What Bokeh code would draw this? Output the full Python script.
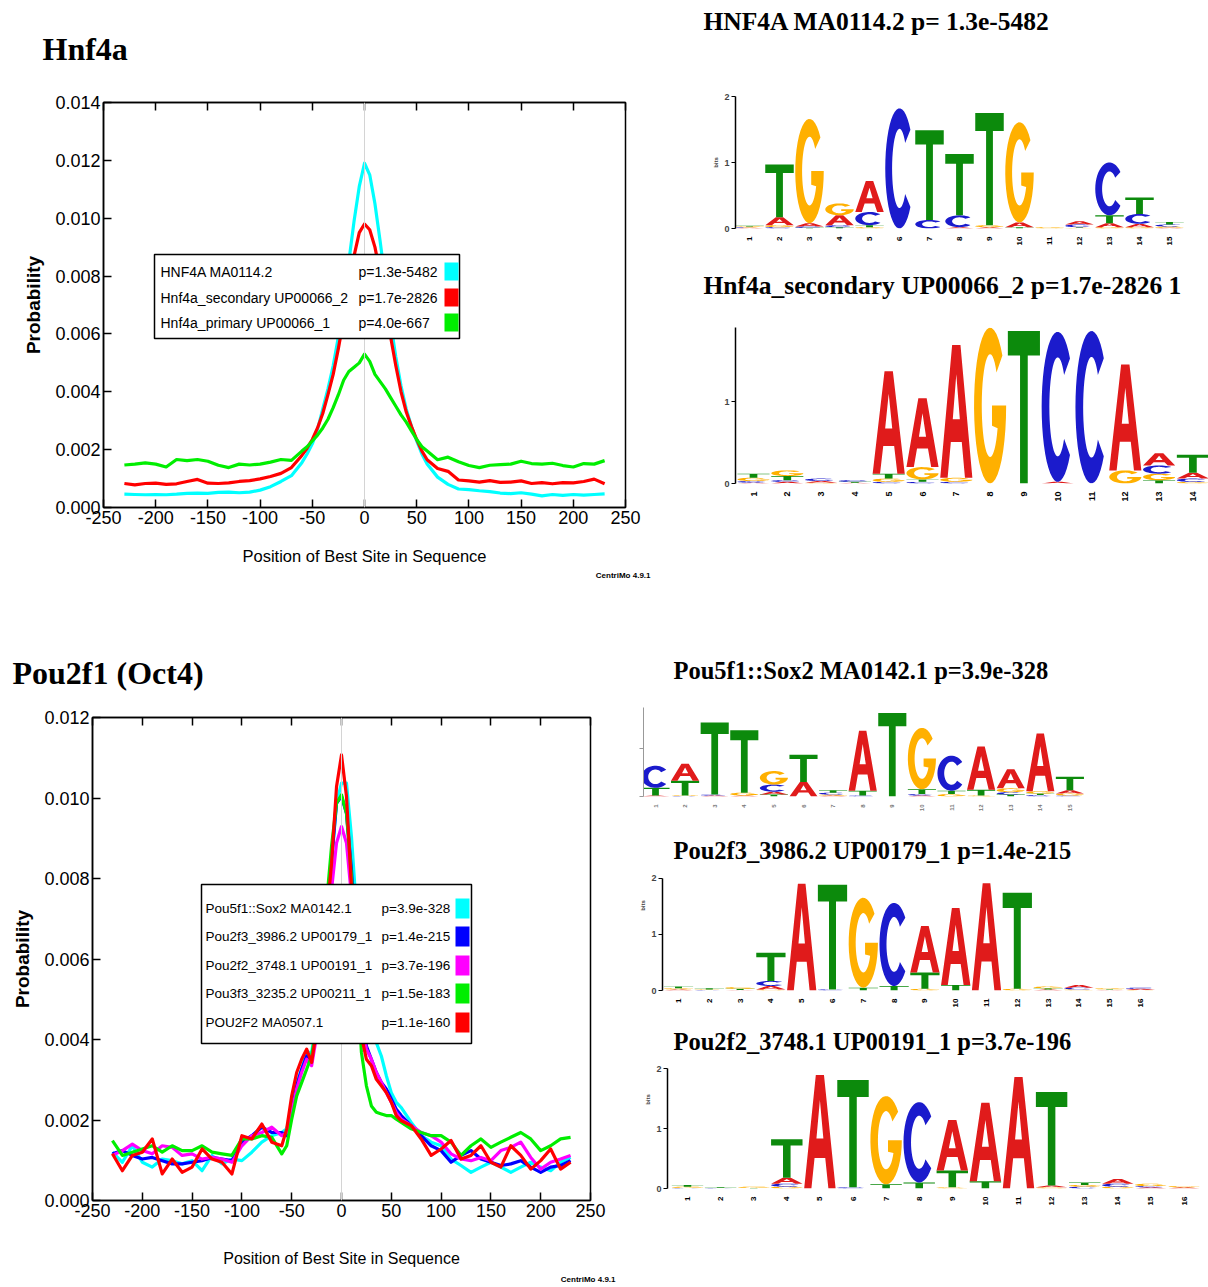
import math
from bokeh.plotting import figure
from bokeh.layouts import row, column
from bokeh.models import Range1d, FixedTicker, PrintfTickFormatter, Label, BoxAnnotation, Span, LinearAxis, Title
from bokeh.embed import file_html
from bokeh.resources import INLINE

SANS = "'Liberation Sans', Arial, sans-serif"
SERIF = "'Liberation Serif', 'Times New Roman', serif"

# ---------------------------------------------------------------- data: Hnf4a
HNF_X = [-230, -220, -210, -200, -190, -180, -170, -160, -150, -140, -130, -120, -110, -100, -90, -80, -70, -60,
         -55, -50, -45, -40, -35, -30, -25, -20, -15, -10, -5, 0, 5, 10, 15, 20, 25, 30, 35, 40, 45, 50, 55,
         60, 70, 80, 90, 100, 110, 120, 130, 140, 150, 160, 170, 180, 190, 200, 210, 220, 230]
HNF_HNF4A = [0.00046, 0.00045, 0.00044, 0.00045, 0.00044, 0.00046, 0.00049, 0.00050, 0.00049, 0.00052, 0.00053, 0.00051,
             0.00053, 0.00060, 0.00072, 0.00090, 0.00110, 0.00155,
             0.00185, 0.00220, 0.00270, 0.00340, 0.00410, 0.00490, 0.00590, 0.00710, 0.00850, 0.00990, 0.01110, 0.01190,
             0.01150, 0.01050, 0.00920, 0.00780, 0.00640, 0.00520, 0.00420, 0.00340, 0.00280, 0.00230, 0.00185,
             0.00150, 0.00105, 0.00080, 0.00064, 0.00062, 0.00058, 0.00055, 0.00050, 0.00048, 0.00051, 0.00046, 0.00040,
             0.00045, 0.00042, 0.00045, 0.00043, 0.00045, 0.00047]
HNF_SECONDARY = [0.00083, 0.00078, 0.00083, 0.00084, 0.00080, 0.00082, 0.00090, 0.00097, 0.00084, 0.00083, 0.00085, 0.00090,
                 0.00093, 0.00099, 0.00107, 0.00118, 0.00138, 0.00180,
                 0.00205, 0.00235, 0.00275, 0.00325, 0.00390, 0.00460, 0.00550, 0.00650, 0.00760, 0.00870, 0.00950, 0.00980,
                 0.00960, 0.00900, 0.00810, 0.00700, 0.00590, 0.00490, 0.00400, 0.00330, 0.00280, 0.00235, 0.00195,
                 0.00165, 0.00135, 0.00125, 0.00095, 0.00092, 0.00088, 0.00093, 0.00087, 0.00088, 0.00092, 0.00083, 0.00086,
                 0.00082, 0.00086, 0.00085, 0.00090, 0.00098, 0.00082]
HNF_PRIMARY = [0.00147, 0.00150, 0.00154, 0.00150, 0.00140, 0.00166, 0.00162, 0.00166, 0.00160, 0.00146, 0.00138, 0.00150,
               0.00147, 0.00150, 0.00157, 0.00166, 0.00163, 0.00195,
               0.00210, 0.00230, 0.00250, 0.00275, 0.00305, 0.00345, 0.00390, 0.00440, 0.00470, 0.00485, 0.00500, 0.00530,
               0.00505, 0.00460, 0.00435, 0.00410, 0.00380, 0.00350, 0.00320, 0.00295, 0.00265, 0.00235, 0.00210,
               0.00195, 0.00165, 0.00174, 0.00158, 0.00145, 0.00138, 0.00146, 0.00148, 0.00150, 0.00160, 0.00152, 0.00150,
               0.00153, 0.00145, 0.00140, 0.00152, 0.00150, 0.00162]
HNF_NAMES = ["HNF4A MA0114.2", "Hnf4a_secondary UP00066_2", "Hnf4a_primary UP00066_1"]
HNF_PVALUES = ["p=1.3e-5482", "p=1.7e-2826", "p=4.0e-667"]
HNF_COLORS = ["#00FFFF", "#FF0000", "#00EE00"]

# ---------------------------------------------------------------- data: Pou2f1
POU_X = HNF_X
POU_POU5F1_SOX2 = [0.00120, 0.00095, 0.00136, 0.00095, 0.00083, 0.00103, 0.00099, 0.00091, 0.00099, 0.00074, 0.00112, 0.00091,
                   0.00103, 0.00099, 0.00120, 0.00145, 0.00161, 0.00169,
                   0.00178, 0.00227, 0.00293, 0.00326, 0.00368, 0.00368, 0.00442, 0.00549, 0.00706, 0.00838, 0.00987, 0.01037,
                   0.01037, 0.00904, 0.00723, 0.00533, 0.00442, 0.00409, 0.00392, 0.00359, 0.00310, 0.00268, 0.00244,
                   0.00231, 0.00194, 0.00161, 0.00145, 0.00136, 0.00103, 0.00087, 0.00070, 0.00083, 0.00095, 0.00083, 0.00070,
                   0.00083, 0.00095, 0.00083, 0.00074, 0.00095, 0.00107]
POU_POU2F3 = [0.00116, 0.00124, 0.00112, 0.00103, 0.00107, 0.00099, 0.00091, 0.00091, 0.00095, 0.00099, 0.00107, 0.00103,
              0.00099, 0.00145, 0.00161, 0.00182, 0.00169, 0.00169,
              0.00161, 0.00219, 0.00285, 0.00326, 0.00359, 0.00351, 0.00425, 0.00533, 0.00698, 0.00847, 0.00987, 0.01004,
              0.00962, 0.00822, 0.00615, 0.00467, 0.00384, 0.00351, 0.00318, 0.00293, 0.00277, 0.00252, 0.00227,
              0.00211, 0.00186, 0.00161, 0.00136, 0.00124, 0.00095, 0.00112, 0.00124, 0.00103, 0.00095, 0.00087, 0.00091,
              0.00099, 0.00083, 0.00070, 0.00083, 0.00087, 0.00099]
POU_POU2F2 = [0.00112, 0.00124, 0.00140, 0.00124, 0.00116, 0.00136, 0.00132, 0.00112, 0.00116, 0.00103, 0.00107, 0.00103,
              0.00095, 0.00136, 0.00161, 0.00169, 0.00182, 0.00161,
              0.00169, 0.00219, 0.00277, 0.00318, 0.00351, 0.00335, 0.00409, 0.00516, 0.00657, 0.00772, 0.00888, 0.00929,
              0.00888, 0.00756, 0.00574, 0.00442, 0.00376, 0.00351, 0.00318, 0.00293, 0.00268, 0.00244, 0.00219,
              0.00202, 0.00186, 0.00169, 0.00161, 0.00145, 0.00116, 0.00103, 0.00099, 0.00107, 0.00099, 0.00124, 0.00132,
              0.00145, 0.00107, 0.00078, 0.00095, 0.00103, 0.00112]
POU_POU3F3 = [0.00149, 0.00112, 0.00120, 0.00128, 0.00136, 0.00120, 0.00136, 0.00124, 0.00124, 0.00136, 0.00120, 0.00116,
              0.00112, 0.00153, 0.00153, 0.00161, 0.00157, 0.00116,
              0.00136, 0.00202, 0.00260, 0.00293, 0.00326, 0.00359, 0.00434, 0.00574, 0.00739, 0.00880, 0.00987, 0.01008,
              0.00962, 0.00805, 0.00574, 0.00368, 0.00285, 0.00235, 0.00219, 0.00215, 0.00211, 0.00211, 0.00202,
              0.00194, 0.00178, 0.00169, 0.00161, 0.00161, 0.00145, 0.00112, 0.00136, 0.00153, 0.00132, 0.00145, 0.00157,
              0.00169, 0.00153, 0.00124, 0.00136, 0.00153, 0.00157]
POU_POU2F2_MA = [0.00116, 0.00074, 0.00112, 0.00120, 0.00153, 0.00066, 0.00103, 0.00070, 0.00083, 0.00128, 0.00103, 0.00095,
                 0.00066, 0.00161, 0.00153, 0.00190, 0.00145, 0.00136,
                 0.00178, 0.00260, 0.00318, 0.00351, 0.00376, 0.00343, 0.00425, 0.00533, 0.00698, 0.00838, 0.01028, 0.01107,
                 0.01004, 0.00781, 0.00549, 0.00409, 0.00351, 0.00335, 0.00301, 0.00285, 0.00268, 0.00244, 0.00211,
                 0.00198, 0.00186, 0.00153, 0.00112, 0.00128, 0.00149, 0.00103, 0.00112, 0.00136, 0.00095, 0.00083, 0.00136,
                 0.00112, 0.00078, 0.00099, 0.00128, 0.00078, 0.00095]
POU_NAMES = ["Pou5f1::Sox2 MA0142.1", "Pou2f3_3986.2 UP00179_1", "Pou2f2_3748.1 UP00191_1",
             "Pou3f3_3235.2 UP00211_1", "POU2F2 MA0507.1"]
POU_PVALUES = ["p=3.9e-328", "p=1.4e-215", "p=3.7e-196", "p=1.5e-183", "p=1.1e-160"]
POU_COLORS = ["#00FFFF", "#0000FF", "#FF00FF", "#00EE00", "#FF0000"]

X_TICKS = [-250, -200, -150, -100, -50, 0, 50, 100, 150, 200, 250]
Y_TICKS_HNF = [0.0, 0.002, 0.004, 0.006, 0.008, 0.010, 0.012, 0.014]
Y_TICKS_POU = [0.0, 0.002, 0.004, 0.006, 0.008, 0.010, 0.012]

# ---------------------------------------------------------------- data: sequence logos (bits per letter)
LOGO1_TITLE = "HNF4A MA0114.2 p= 1.3e-5482"
LOGO1_A = [0.01, 0.12, 0.05, 0.15, 0.47, 0.00, 0.00, 0.02, 0.02, 0.07, 0.00, 0.05, 0.06, 0.05, 0.01]
LOGO1_C = [0.01, 0.02, 0.02, 0.03, 0.20, 1.82, 0.13, 0.18, 0.00, 0.00, 0.00, 0.04, 0.80, 0.15, 0.03]
LOGO1_G = [0.01, 0.03, 1.58, 0.18, 0.02, 0.00, 0.00, 0.00, 0.03, 1.52, 0.02, 0.01, 0.02, 0.02, 0.02]
LOGO1_T = [0.01, 0.80, 0.01, 0.02, 0.03, 0.00, 1.36, 0.93, 1.70, 0.02, 0.00, 0.01, 0.12, 0.25, 0.04]

LOGO2_TITLE = "Hnf4a_secondary UP00066_2 p=1.7e-2826 1"
LOGO2_A = [0.01, 0.02, 0.02, 0.01, 1.25, 0.84, 1.62, 0.00, 0.00, 0.02, 0.00, 1.29, 0.15, 0.07]
LOGO2_C = [0.02, 0.02, 0.03, 0.02, 0.02, 0.02, 0.02, 0.00, 0.00, 1.83, 1.86, 0.00, 0.10, 0.04]
LOGO2_G = [0.04, 0.07, 0.01, 0.00, 0.04, 0.15, 0.05, 1.90, 0.00, 0.00, 0.00, 0.16, 0.08, 0.02]
LOGO2_T = [0.05, 0.05, 0.00, 0.01, 0.06, 0.03, 0.00, 0.00, 1.86, 0.00, 0.00, 0.00, 0.04, 0.22]

LOGO3_TITLE = "Pou5f1::Sox2 MA0142.1 p=3.9e-328"
LOGO3_A = [0.02, 0.35, 0.02, 0.02, 0.06, 0.30, 0.02, 1.25, 0.00, 0.02, 0.00, 0.90, 0.40, 1.20, 0.07]
LOGO3_C = [0.46, 0.01, 0.02, 0.00, 0.15, 0.00, 0.04, 0.02, 0.00, 0.03, 0.73, 0.00, 0.05, 0.03, 0.02]
LOGO3_G = [0.00, 0.01, 0.00, 0.06, 0.28, 0.00, 0.02, 0.00, 0.00, 1.28, 0.05, 0.02, 0.08, 0.05, 0.04]
LOGO3_T = [0.16, 0.31, 1.50, 1.30, 0.04, 0.57, 0.05, 0.10, 1.74, 0.10, 0.07, 0.12, 0.04, 0.03, 0.28]

LOGO4_TITLE = "Pou2f3_3986.2 UP00179_1 p=1.4e-215"
LOGO4_A = [0.02, 0.00, 0.01, 0.06, 1.90, 0.00, 0.00, 0.00, 0.83, 1.37, 1.91, 0.00, 0.02, 0.05, 0.01, 0.02]
LOGO4_C = [0.00, 0.01, 0.00, 0.09, 0.00, 0.02, 0.00, 1.48, 0.00, 0.00, 0.00, 0.00, 0.00, 0.03, 0.00, 0.02]
LOGO4_G = [0.02, 0.01, 0.03, 0.02, 0.00, 0.00, 1.60, 0.00, 0.03, 0.00, 0.00, 0.03, 0.03, 0.02, 0.02, 0.01]
LOGO4_T = [0.03, 0.02, 0.02, 0.50, 0.00, 1.86, 0.05, 0.08, 0.29, 0.10, 0.00, 1.71, 0.02, 0.00, 0.01, 0.00]

LOGO5_TITLE = "Pou2f2_3748.1 UP00191_1 p=3.7e-196"
LOGO5_A = [0.00, 0.00, 0.00, 0.10, 1.89, 0.00, 0.00, 0.00, 0.84, 1.31, 1.86, 0.03, 0.00, 0.08, 0.02, 0.02]
LOGO5_C = [0.01, 0.01, 0.00, 0.05, 0.00, 0.02, 0.00, 1.34, 0.00, 0.00, 0.00, 0.00, 0.03, 0.05, 0.02, 0.00]
LOGO5_G = [0.02, 0.00, 0.02, 0.03, 0.00, 0.00, 1.47, 0.00, 0.02, 0.00, 0.00, 0.02, 0.03, 0.03, 0.04, 0.02]
LOGO5_T = [0.03, 0.01, 0.01, 0.64, 0.00, 1.79, 0.07, 0.10, 0.28, 0.12, 0.00, 1.56, 0.04, 0.00, 0.00, 0.00]

LETTER_COLORS = {"A": "#E01B1B", "C": "#1B1BCC", "G": "#FFB000", "T": "#0C8A0C"}


# ---------------------------------------------------------------- helpers
class Frame:
    def __init__(self, ox, oy, w, h, left, right, top, bottom, xr, yr):
        self.ox, self.oy, self.w, self.h = ox, oy, w, h
        self.left, self.right, self.top, self.bottom = left, right, top, bottom
        self.xr, self.yr = xr, yr

    def fig(self, title=None):
        p = figure(width=self.w, height=self.h, title=title,
                   x_range=Range1d(*self.xr), y_range=Range1d(*self.yr),
                   min_border_left=int(self.left - self.ox), min_border_right=int(self.ox + self.w - self.right),
                   min_border_top=int(self.top - self.oy), min_border_bottom=int(self.oy + self.h - self.bottom),
                   output_backend="svg", toolbar_location=None)
        p.grid.visible = False
        p.background_fill_color = "white"
        p.border_fill_color = "white"
        return p

    def dx(self, px):
        return self.xr[0] + (px - self.left) / (self.right - self.left) * (self.xr[1] - self.xr[0])

    def dy(self, py):
        return self.yr[0] + (self.bottom - py) / (self.bottom - self.top) * (self.yr[1] - self.yr[0])


def text(p, fr, px, py, s, font, size, style="normal", align="left", color="black"):
    p.add_layout(Label(x=fr.dx(px), y=fr.dy(py), text=s, text_font=font, text_font_size=size,
                       text_font_style=style, text_align=align, text_baseline="middle", text_color=color))


def title_fig(ox, oy, w, h, px, py, s, size):
    """A strip that only carries a heading; its frame is the whole strip."""
    fr = Frame(ox, oy, w, h, ox, ox + w, oy, oy + h, (0, w), (0, h))
    p = figure(width=w, height=h, x_range=Range1d(0, w), y_range=Range1d(0, h),
               min_border_left=0, min_border_right=0, min_border_top=0, min_border_bottom=0,
               x_axis_location=None, y_axis_location=None, output_backend="svg", toolbar_location=None)
    p.grid.visible = False
    p.outline_line_color = None
    p.background_fill_color = "white"
    p.border_fill_color = "white"
    text(p, fr, px, py, s, SERIF, size, style="bold")
    return row(p, spacing=0)


def main_chart(fr, yticks, series, colors, names, pvals, title, title_off, title_standoff,
               legend_box, legend_rows, name_x, p_x, sw_x, sw_h, leg_size, xlab_size, xlab_standoff,
               credit_off, credit_standoff):
    p = fr.fig(title=title)
    p.outline_line_color = "black"
    p.outline_line_width = 1.5
    p.xaxis.ticker = FixedTicker(ticks=X_TICKS)
    p.xaxis.formatter = PrintfTickFormatter(format="%d")
    p.yaxis.ticker = FixedTicker(ticks=yticks)
    p.yaxis.formatter = PrintfTickFormatter(format="%.3f")
    for ax in (p.xaxis[0], p.yaxis[0]):
        ax.major_tick_in = 8
        ax.major_tick_out = 0
        ax.minor_tick_line_color = None
        ax.axis_line_width = 1.5
        ax.major_tick_line_width = 1.5
        ax.major_label_text_font = SANS
        ax.major_label_text_font_size = "18px"
        ax.major_label_text_color = "black"
        ax.major_label_standoff = 3
        ax.axis_label_text_font = SANS
        ax.axis_label_text_font_size = xlab_size
        ax.axis_label_text_font_style = "normal"
        ax.axis_label_text_color = "black"
    p.xaxis.axis_label = "Position of Best Site in Sequence"
    p.xaxis.axis_label_standoff = xlab_standoff
    p.yaxis.axis_label = "Probability"
    p.yaxis.axis_label_text_font_style = "bold"
    p.yaxis.axis_label_text_font_size = "19px"
    p.yaxis.axis_label_standoff = 8
    top_ax = LinearAxis(ticker=FixedTicker(ticks=X_TICKS), major_tick_in=8, major_tick_out=0,
                        minor_tick_line_color=None, major_label_overrides={t: "" for t in X_TICKS},
                        axis_line_width=1.5, major_tick_line_width=1.5, major_label_standoff=0)
    p.add_layout(top_ax, "above")
    p.add_layout(Span(location=0, dimension="height", line_color="#d4d4d4", line_width=1))
    xs, ys_list = series[0], series[1:]
    for ys, c in zip(ys_list, colors):
        p.line(xs, ys, line_color=c, line_width=3.2, line_join="round")
    # legend
    l, r, t, b = legend_box
    p.add_layout(BoxAnnotation(left=fr.dx(l), right=fr.dx(r), top=fr.dy(t), bottom=fr.dy(b),
                               fill_color="white", fill_alpha=1.0, line_color="black", line_width=1.5,
                               line_alpha=1.0))
    for ry, nm, pv, c in zip(legend_rows, names, pvals, colors):
        text(p, fr, name_x, ry, nm, SANS, leg_size)
        text(p, fr, p_x, ry, pv, SANS, leg_size)
        p.add_layout(BoxAnnotation(left=fr.dx(sw_x[0]), right=fr.dx(sw_x[1]),
                                   top=fr.dy(ry - sw_h / 2), bottom=fr.dy(ry + sw_h / 2),
                                   fill_color=c, fill_alpha=1.0, line_color=None))
    if title:
        p.title.align = "left"
        p.title.offset = title_off
        p.title.standoff = title_standoff
        p.title.text_font = SERIF
        p.title.text_font_size = "32px"
        p.title.text_font_style = "bold"
        p.title.text_color = "black"
    credit = Title(text="CentriMo 4.9.1", align="right", offset=credit_off, standoff=credit_standoff,
                   text_font=SANS, text_font_size="8px", text_font_style="bold", text_color="black")
    p.add_layout(credit, "below")
    return p


def arc(cx, cy, rx, ry, a0, a1, n=36):
    pts = []
    for k in range(n + 1):
        a = math.radians(a0 + (a1 - a0) * k / n)
        pts.append((cx + rx * math.cos(a), cy + ry * math.sin(a)))
    return pts


SHAPES = {
    "T": [[[(0, 1), (1, 1), (1, 0.84), (0.62, 0.84), (0.62, 0), (0.38, 0), (0.38, 0.84), (0, 0.84)]]],
    "A": [[[(0, 0), (0.37, 1), (0.63, 1), (1, 0), (0.77, 0), (0.67, 0.27), (0.33, 0.27), (0.23, 0)],
           [(0.39, 0.44), (0.61, 0.44), (0.5, 0.78)]]],
    "C": [[arc(0.5, 0.5, 0.5, 0.5, 40, 320) + arc(0.5, 0.5, 0.26, 0.33, 320, 40)]],
    "G": [[arc(0.5, 0.5, 0.5, 0.5, 40, 360) + [(0.56, 0.5), (0.56, 0.37)] + arc(0.5, 0.5, 0.26, 0.33, 334, 40)]],
}


def logo(spec, title, heights, n, yticks, ylabels, ylabel, xlab_color, xlab_size, title_xy, title_size):
    ox, oy, w, h, fleft, pos1, step, y0, ppb, ymax = spec
    xr = (1 + (fleft - pos1) / step, 1 + (ox + w - pos1) / step)
    # with a heading inside, the frame reaches up to the top of the figure; otherwise it starts at the axis top
    top = oy if title else round(y0 - ymax * ppb)
    fr = Frame(ox, oy, w, h, fleft, ox + w, top, y0, xr, (0, (y0 - top) / ppb))
    p = fr.fig()
    p.outline_line_color = None
    xs_all, ys_all, cols = [], [], []
    wd = 0.95
    for i in range(n):
        pos = i + 1
        stack = sorted([(heights[L][i], L) for L in "ACGT"], key=lambda t: t[0])
        base = 0.0
        for hg, L in stack:
            if hg <= 0:
                continue
            lx, ly = [], []
            for poly in SHAPES[L]:
                rx, ryy = [], []
                for ring in poly:
                    rx.append([pos - wd / 2 + u * wd for u, v in ring])
                    ryy.append([base + v * hg for u, v in ring])
                lx.append(rx)
                ly.append(ryy)
            xs_all.append(lx)
            ys_all.append(ly)
            cols.append(LETTER_COLORS[L])
            base += hg
    p.multi_polygons(xs=xs_all, ys=ys_all, fill_color=cols, line_color=None)
    xa = p.xaxis[0]
    xa.ticker = FixedTicker(ticks=list(range(1, n + 1)))
    xa.axis_line_color = None
    xa.major_tick_line_color = None
    xa.minor_tick_line_color = None
    xa.major_label_orientation = math.pi / 2
    xa.major_label_text_font = SANS
    xa.major_label_text_font_style = "bold"
    xa.major_label_text_font_size = xlab_size
    xa.major_label_text_color = xlab_color
    xa.major_label_standoff = 2
    ya = p.yaxis[0]
    ya.ticker = FixedTicker(ticks=yticks)
    ya.bounds = (0, ymax)
    ya.minor_tick_line_color = None
    ya.major_tick_in = 0
    ya.major_tick_out = 4
    ya.axis_line_width = 1.5 if ylabels else 1
    ya.axis_line_color = "black" if ylabels else "#999999"
    ya.major_tick_line_color = "black" if ylabels else "#999999"
    ya.major_label_text_font = SANS
    ya.major_label_text_font_style = "bold"
    ya.major_label_text_font_size = "9px"
    ya.major_label_standoff = 2
    if not ylabels:
        ya.major_label_overrides = {t: "" for t in yticks}
    if ylabel:
        ya.axis_label = ylabel
        ya.axis_label_text_font = SANS
        ya.axis_label_text_font_size = "6px"
        ya.axis_label_text_font_style = "bold"
        ya.axis_label_standoff = 2
    if title:
        text(p, fr, title_xy[0], title_xy[1], title, SERIF, title_size, style="bold")
    return row(p, spacing=0)


# ---------------------------------------------------------------- top-left chart
T_HNF = title_fig(0, 0, 680, 70, 42, 48, "Hnf4a", "32px")
F1 = Frame(0, 70, 680, 530, 103, 625, 102, 507, (-250, 250), (0, 0.014))
p1 = main_chart(F1, Y_TICKS_HNF, [HNF_X, HNF_HNF4A, HNF_SECONDARY, HNF_PRIMARY], HNF_COLORS,
                HNF_NAMES, HNF_PVALUES, None, 0, 0,
                (154, 459, 254, 338), [271, 297, 322], 160, 358, (444, 458), 18, "14px", "16.5px", 20, -25, 3)

# ---------------------------------------------------------------- bottom-left chart
F2 = Frame(0, 600, 630, 687, 92, 590, 717, 1200, (-250, 250), (0, 0.012))
pou_series = [POU_X, POU_POU5F1_SOX2, POU_POU2F3, POU_POU2F2, POU_POU3F3, POU_POU2F2_MA]
p2 = main_chart(F2, Y_TICKS_POU, pou_series, POU_COLORS, POU_NAMES, POU_PVALUES,
                "Pou2f1 (Oct4)", -80, 54,
                (201, 471, 884, 1043), [908, 936, 965, 993, 1022], 205, 381, (455, 469), 20, "13.5px", "16px", 30,
                -25, 6)

# ---------------------------------------------------------------- logos
T_L1 = title_fig(680, 0, 528, 45, 703, 21, LOGO1_TITLE, "25.5px")
L1 = logo((680, 45, 528, 210, 735, 749, 30.0, 228, 66.0, 2.0), None,
          {"A": LOGO1_A, "C": LOGO1_C, "G": LOGO1_G, "T": LOGO1_T}, 15, [0, 1, 2], True, "bits",
          "black", "8px", None, None)
T_L2 = title_fig(680, 255, 528, 50, 703, 285, LOGO2_TITLE, "25.5px")
L2 = logo((680, 305, 528, 295, 735, 753, 33.8, 483, 82.0, 1.9), None,
          {"A": LOGO2_A, "C": LOGO2_C, "G": LOGO2_G, "T": LOGO2_T}, 14, [0, 1], True, None,
          "black", "9px", None, None)
L3 = logo((630, 600, 578, 220, 643, 655, 29.6, 796, 48.0, 1.85), LOGO3_TITLE,
          {"A": LOGO3_A, "C": LOGO3_C, "G": LOGO3_G, "T": LOGO3_T}, 15, [0, 1], False, None,
          "#777777", "6px", (673, 670), "24.5px")
L4 = logo((630, 820, 578, 190, 662, 678, 30.8, 997, 58.5, 2.0), LOGO4_TITLE,
          {"A": LOGO4_A, "C": LOGO4_C, "G": LOGO4_G, "T": LOGO4_T}, 16, [0, 1, 2], True, "bits",
          "black", "8px", (673, 851), "24.5px")
L5 = logo((630, 1010, 578, 277, 667, 687, 33.1, 1188, 60.0, 2.0), LOGO5_TITLE,
          {"A": LOGO5_A, "C": LOGO5_C, "G": LOGO5_G, "T": LOGO5_T}, 16, [0, 1, 2], True, "bits",
          "black", "8px", (673, 1041), "24.5px")

left_top = column(T_HNF, row(p1, spacing=0), spacing=0)
right_top = column(T_L1, L1, T_L2, L2, spacing=0)
layout = column(row(left_top, right_top, spacing=0),
                row(p2, column(L3, L4, L5, spacing=0), spacing=0), spacing=0)

open("out.html", "w").write(file_html(layout, INLINE))
